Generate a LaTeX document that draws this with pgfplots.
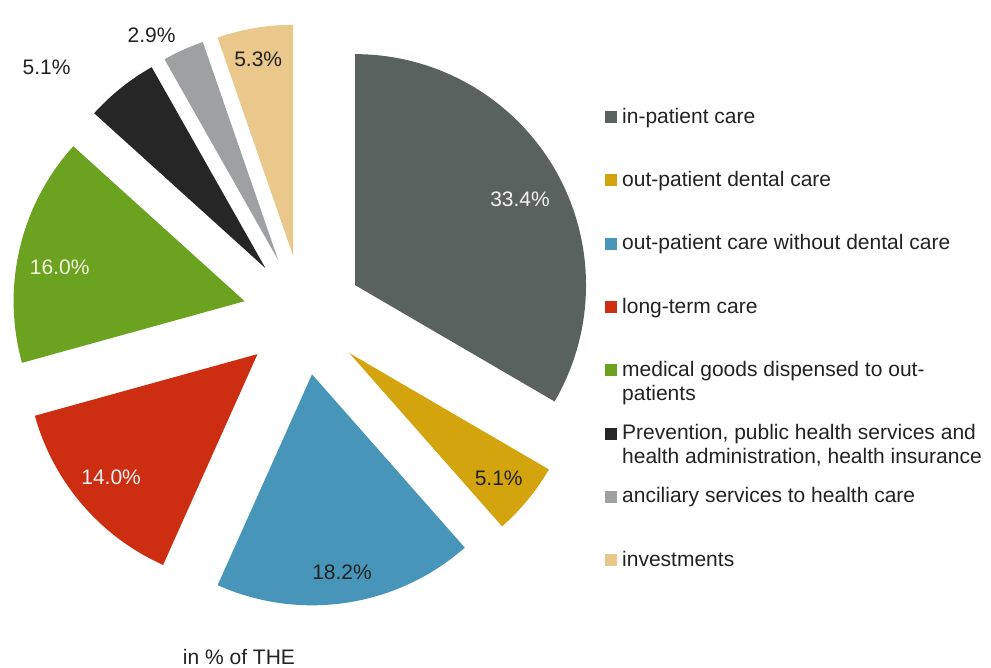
\documentclass[border=0pt]{standalone}
\usepackage{fontspec}
\setmainfont{Liberation Sans}
\usepackage{pgfplots}
\pgfplotsset{compat=1.18}
\usepackage{pgfplotstable}

\definecolor{c0}{HTML}{59625E}
\definecolor{c1}{HTML}{D4A40E}
\definecolor{c2}{HTML}{4796B9}
\definecolor{c3}{HTML}{CD2E12}
\definecolor{c4}{HTML}{6BA21F}
\definecolor{c5}{HTML}{262626}
\definecolor{c6}{HTML}{9DA1A2}
\definecolor{c7}{HTML}{EAC78B}
\definecolor{lw}{HTML}{F2F2F2}
\definecolor{lg}{HTML}{F2F5DC}
\definecolor{ld}{HTML}{222222}

% value = share in % of THE; labr/labd = label distance / angle tweak
\pgfplotstableread{
value labr labd lcol
33.4 186 -2.4 lw
5.1  195 -0.6 ld
18.2 200  0.0 ld
14.0 191 -0.7 lw
16.0 188  2.9 lg
5.1  297  8.8 ld
2.9  258  5.1 ld
5.3  200  0.5 ld
}\pies

\newcommand\lblfont{\fontsize{21}{24}\selectfont}
\newcommand\LT[1]{\smash{\raisebox{-6pt}{\begin{tabular}[t]{@{}l@{}}#1\end{tabular}}}}

\def\Cx{303}\def\Cy{315}\def\D{60}\def\R{231}

\begin{document}
\begin{tikzpicture}
\begin{axis}[
  scale only axis, width=991pt, height=667pt,
  xmin=0, xmax=991, ymin=0, ymax=667, y dir=reverse,
  hide axis, clip=false,
  legend image code/.code={\fill[#1] (0pt,-6pt) rectangle (12pt,6pt);},
  legend style={at={(0.6105,0.8336)}, anchor=north west, draw=none, fill=none,
    inner sep=0pt, row sep=51.3pt, column sep=5pt,
    nodes={inner sep=0pt, text depth=0pt}, cells={anchor=west},
    font=\fontsize{21}{24}\selectfont, text=ld},
]
\coordinate (BL) at (axis cs:0,667);
\coordinate (TR) at (axis cs:991,0);
\def\cum{0}
\pgfplotsforeachungrouped \i in {0,...,7}{%
  \pgfplotstablegetelem{\i}{value}\of\pies \let\val\pgfplotsretval
  \pgfplotstablegetelem{\i}{labr}\of\pies \let\lr\pgfplotsretval
  \pgfplotstablegetelem{\i}{labd}\of\pies \let\ld\pgfplotsretval
  \pgfplotstablegetelem{\i}{lcol}\of\pies \let\lc\pgfplotsretval
  \pgfmathsetmacro\aA{90-3.6*\cum}%
  \pgfmathsetmacro\aB{90-3.6*(\cum+\val)}%
  \pgfmathsetmacro\aM{(\aA+\aB)/2}%
  \pgfmathsetmacro\px{\Cx+\D*cos(\aM)}%
  \pgfmathsetmacro\py{\Cy-\D*sin(\aM)}%
  \pgfmathsetmacro\lx{\px+\lr*cos(\aM+\ld)}%
  \pgfmathsetmacro\ly{\py-\lr*sin(\aM+\ld)}%
  \edef\doslice{%
    \noexpand\addplot[fill=c\i, draw=none, domain=\aB:\aA, samples=90]
      ({\px+\R*cos(x)},{\py-\R*sin(x)}) -- (axis cs:\px,\py) -- cycle;
    \noexpand\node[text=\lc, font=\noexpand\lblfont] at (axis cs:\lx,\ly) {\val\noexpand\%};
  }%
  \doslice
  \pgfmathsetmacro\cum{\cum+\val}%
}
\node[text=ld, font=\lblfont] at (axis cs:239,657) {in \% of THE};
\legend{\LT{in-patient care},
  \LT{out-patient dental care},
  \LT{out-patient care without dental care},
  \LT{long-term care},
  \LT{medical goods dispensed to out-\\patients},
  {\LT{Prevention, public health services and\\health administration, health insurance}},
  \LT{anciliary services to health care},
  \LT{investments}}
\end{axis}
\pgfresetboundingbox
\useasboundingbox (BL) rectangle (TR);
\end{tikzpicture}
\end{document}
